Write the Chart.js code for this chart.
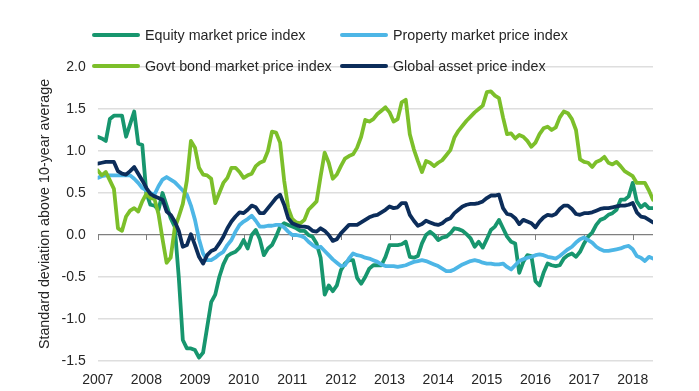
<!DOCTYPE html>
<html><head><meta charset="utf-8">
<script src="https://cdn.jsdelivr.net/npm/chart.js@4/dist/chart.umd.min.js"></script>
<style>html,body{margin:0;padding:0;background:#fff}#wrap{width:699px;height:391px;position:relative}</style>
</head><body><div id="wrap"><canvas id="c" width="699" height="391"></canvas></div>
<script>
const startYear = 2007;
const yearTicks = [2007,2008,2009,2010,2011,2012,2013,2014,2015,2016,2017,2018];
const seriesNames = ['Equity market price index','Property market price index','Govt bond market price index','Global asset price index'];
const equity = [
1.17,1.15,1.12,1.38,1.42,1.42,1.42,1.17,1.32,1.47,
1.09,1.07,0.5,0.36,0.35,0.3,0.5,0.35,0.2,0.1,
-0.5,-1.25,-1.35,-1.35,-1.37,-1.46,-1.4,-1.1,-0.8,-0.71,
-0.5,-0.35,-0.25,-0.22,-0.2,-0.15,-0.06,-0.16,0.0,0.06,
-0.05,-0.24,-0.16,-0.12,-0.02,0.1,0.14,0.12,0.1,0.08,
0.05,0.05,0.0,-0.02,-0.1,-0.27,-0.71,-0.6,-0.67,-0.6,
-0.42,-0.34,-0.3,-0.3,-0.51,-0.58,-0.5,-0.4,-0.36,-0.36,
-0.36,-0.26,-0.12,-0.12,-0.12,-0.11,-0.08,-0.26,-0.27,-0.25,
-0.1,0.0,0.04,0.0,-0.06,-0.03,-0.02,0.02,0.08,0.07,
0.05,0.01,-0.04,-0.14,-0.08,-0.15,-0.05,0.06,0.1,0.18,
0.08,-0.02,-0.08,-0.1,-0.45,-0.32,-0.24,-0.25,-0.55,-0.6,
-0.45,-0.34,-0.36,-0.37,-0.36,-0.28,-0.24,-0.22,-0.26,-0.2,
-0.1,-0.02,0.03,0.12,0.18,0.2,0.24,0.26,0.3,0.42,
0.42,0.46,0.62,0.4,0.33,0.37,0.32,0.32];
const property = [
0.68,0.7,0.71,0.71,0.71,0.71,0.71,0.71,0.71,0.67,
0.62,0.56,0.53,0.5,0.48,0.58,0.66,0.69,0.66,0.63,
0.58,0.53,0.48,0.35,0.18,-0.05,-0.22,-0.3,-0.3,-0.27,
-0.23,-0.2,-0.12,-0.06,0.04,0.12,0.16,0.19,0.23,0.17,
0.1,0.1,0.11,0.11,0.12,0.12,0.09,0.04,0.0,0.0,
-0.01,-0.03,-0.08,-0.12,-0.15,-0.14,-0.19,-0.24,-0.29,-0.33,
-0.37,-0.36,-0.28,-0.22,-0.24,-0.25,-0.27,-0.28,-0.3,-0.32,
-0.35,-0.37,-0.37,-0.37,-0.38,-0.37,-0.36,-0.34,-0.32,-0.31,
-0.3,-0.31,-0.33,-0.35,-0.37,-0.4,-0.43,-0.43,-0.41,-0.38,
-0.35,-0.33,-0.31,-0.3,-0.31,-0.33,-0.34,-0.34,-0.35,-0.35,
-0.34,-0.38,-0.41,-0.36,-0.31,-0.29,-0.27,-0.26,-0.24,-0.23,
-0.24,-0.26,-0.27,-0.28,-0.25,-0.21,-0.17,-0.14,-0.09,-0.05,
-0.03,-0.06,-0.09,-0.14,-0.17,-0.19,-0.19,-0.18,-0.17,-0.16,
-0.14,-0.13,-0.17,-0.25,-0.27,-0.31,-0.26,-0.28];
const govtBond = [
0.77,0.71,0.75,0.65,0.55,0.08,0.05,0.22,0.29,0.32,
0.28,0.4,0.49,0.44,0.43,0.25,-0.05,-0.33,-0.27,0.08,
0.22,0.37,0.65,1.12,1.04,0.8,0.72,0.71,0.67,0.38,
0.5,0.62,0.68,0.8,0.8,0.75,0.68,0.71,0.73,0.82,
0.86,0.88,1.0,1.23,1.22,1.1,0.65,0.32,0.19,0.15,
0.14,0.18,0.3,0.35,0.4,0.7,0.98,0.86,0.67,0.72,
0.82,0.91,0.94,0.96,1.04,1.17,1.37,1.35,1.38,1.44,
1.48,1.52,1.46,1.35,1.38,1.58,1.61,1.2,1.02,0.88,
0.75,0.88,0.86,0.82,0.86,0.89,0.95,1.01,1.16,1.24,
1.3,1.36,1.41,1.46,1.5,1.54,1.7,1.71,1.66,1.63,
1.4,1.2,1.21,1.15,1.19,1.17,1.12,1.05,1.1,1.2,
1.27,1.29,1.25,1.28,1.4,1.47,1.45,1.38,1.25,0.9,
0.87,0.86,0.81,0.87,0.89,0.93,0.86,0.84,0.87,0.82,
0.76,0.73,0.7,0.62,0.62,0.62,0.53,0.42];
const globalAsset = [
0.85,0.86,0.87,0.87,0.87,0.76,0.73,0.72,0.76,0.81,
0.73,0.65,0.56,0.49,0.46,0.44,0.42,0.28,0.24,0.16,
0.05,-0.14,-0.12,0.01,-0.12,-0.26,-0.34,-0.24,-0.19,-0.17,
-0.1,-0.02,0.08,0.16,0.22,0.27,0.26,0.3,0.35,0.33,
0.26,0.26,0.32,0.38,0.44,0.48,0.36,0.2,0.14,0.12,
0.1,0.1,0.09,0.05,0.04,0.08,0.05,0.0,-0.07,-0.05,
0.02,0.07,0.12,0.12,0.12,0.15,0.18,0.21,0.23,0.24,
0.27,0.3,0.34,0.32,0.33,0.38,0.38,0.24,0.17,0.11,
0.13,0.17,0.15,0.13,0.12,0.14,0.18,0.2,0.26,0.3,
0.34,0.36,0.37,0.37,0.38,0.4,0.44,0.47,0.47,0.48,
0.32,0.25,0.24,0.2,0.13,0.18,0.16,0.14,0.09,0.16,
0.21,0.24,0.23,0.25,0.31,0.35,0.35,0.31,0.25,0.24,
0.26,0.26,0.27,0.29,0.31,0.32,0.32,0.33,0.34,0.35,
0.35,0.36,0.38,0.27,0.22,0.21,0.18,0.15];
const yTitle = 'Standard deviation above 10-year average';

const colors = ['#17966e','#4db6e6','#7cbf2a','#0c2d5a'];
const FONT = '"Liberation Sans", Arial, sans-serif';
const toPts = arr => arr.map((v,i)=>({x:startYear + i/12, y:v}));
const allSeries = [equity, property, govtBond, globalAsset];

const extras = {
  id:'extras',
  beforeDatasetsDraw(chart){
    const ctx = chart.ctx, xs = chart.scales.x, ys = chart.scales.y;
    const y0 = ys.getPixelForValue(0);
    ctx.save();
    ctx.strokeStyle = '#7f7f7f'; ctx.lineWidth = 1;
    yearTicks.forEach(yr=>{
      const x = Math.round(xs.getPixelForValue(yr))+0.5;
      ctx.beginPath(); ctx.moveTo(x, y0); ctx.lineTo(x, y0+5); ctx.stroke();
    });
    ctx.restore();
  },
  afterDraw(chart){
    const ctx = chart.ctx, ca = chart.chartArea;
    ctx.save();
    ctx.translate(45, (ca.top+ca.bottom)/2);
    ctx.rotate(-Math.PI/2);
    ctx.font = '14.3px ' + FONT; ctx.fillStyle = '#262626';
    ctx.textAlign = 'center'; ctx.textBaseline = 'middle';
    ctx.fillText(yTitle, 0, 0);
    ctx.restore();
    const pos = [[92,35],[340,35],[92,66],[340,66]];
    ctx.save();
    ctx.font = '14.3px ' + FONT; ctx.textBaseline = 'middle'; ctx.textAlign = 'left';
    seriesNames.forEach((n,i)=>{
      const [x,y] = pos[i];
      ctx.strokeStyle = colors[i]; ctx.lineWidth = 4; ctx.lineCap = 'round';
      ctx.beginPath(); ctx.moveTo(x+2,y); ctx.lineTo(x+46,y); ctx.stroke();
      ctx.fillStyle = '#262626';
      ctx.fillText(n, x+53, y+1);
    });
    ctx.restore();
  }
};

new Chart(document.getElementById('c'), {
  type:'line',
  data:{
    datasets: allSeries.map((arr,i)=>({
      label: seriesNames[i], data: toPts(arr), borderColor: colors[i], backgroundColor: colors[i],
      borderWidth: 3.8, pointRadius: 0, tension: 0, borderJoinStyle:'round', borderCapStyle:'round',
      order: 3 - i
    }))
  },
  options:{
    responsive:false, animation:false, devicePixelRatio:1,
    layout:{padding:{top:67,right:46,bottom:0,left:0}},
    plugins:{legend:{display:false}, tooltip:{enabled:false}},
    scales:{
      x:{type:'linear', min:startYear, max:startYear + (equity.length-1)/12,
        grid:{display:false}, border:{display:false},
        afterBuildTicks: s => { s.ticks = yearTicks.map(v=>({value:v})); },
        afterFit: s => { s.height = 30; },
        ticks:{padding:3, color:'#262626', font:{family:FONT, size:14}, maxRotation:0, autoSkip:false, callback:v=>String(v)}
      },
      y:{min:-1.5, max:2.0,
        afterFit: s => { s.width = 97.7; },
        border:{display:false},
        grid:{drawTicks:false, color: c => c.tick && c.tick.value === 0 ? '#7f7f7f' : '#dedede', lineWidth: c => c.tick && c.tick.value === 0 ? 1.2 : 1.6},
        ticks:{stepSize:0.5, padding:12, color:'#262626', font:{family:FONT, size:14}, callback:v=>v.toFixed(1)}
      }
    }
  },
  plugins:[extras]
});
</script>
</body></html>
